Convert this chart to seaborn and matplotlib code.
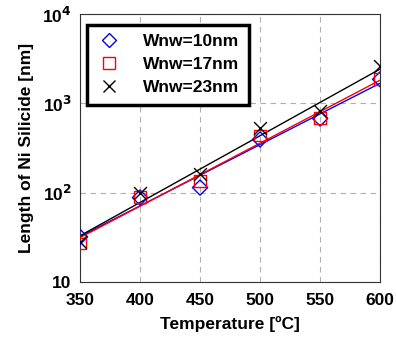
import numpy as np
import pandas as pd
import matplotlib
matplotlib.use("Agg")
import matplotlib.pyplot as plt
import seaborn as sns
from matplotlib.lines import Line2D
from matplotlib.ticker import FixedLocator, NullLocator

temps = [350, 400, 450, 500, 550, 600]
wnw10 = [32, 88, 114, 394, 677, 1860]
wnw17 = [27, 90, 136, 437, 690, 1860]
wnw23 = [28, 100, 163, 525, 812, 2600]
labels = ["Wnw=10nm", "Wnw=17nm", "Wnw=23nm"]
colors = ["#0000ff", "#ff0000", "#000000"]
markers = ["D", "s", "x"]
ytick_vals = [10, 100, 1000, 10000]
ytick_labels = ["10", "10$^{2}$", "10$^{3}$", "10$^{4}$"]

rows = []
for lab, vals in zip(labels, [wnw10, wnw17, wnw23]):
    for t, v in zip(temps, vals):
        rows.append({"T": t, "L": v, "series": lab})
df = pd.DataFrame(rows)

# exponential fits (log-linear)
fit_rows = []
for lab, vals in zip(labels, [wnw10, wnw17, wnw23]):
    p = np.polyfit(temps, np.log10(vals), 1)
    for t in temps:
        fit_rows.append({"T": t, "L": 10 ** np.polyval(p, t), "series": lab})
fit = pd.DataFrame(fit_rows)

sns.set_style("white")
plt.rcParams["font.family"] = ["Liberation Sans", "DejaVu Sans"]
plt.rcParams["font.weight"] = "bold"
plt.rcParams["mathtext.default"] = "bf"
for k in ["text.color", "axes.labelcolor", "xtick.color", "ytick.color"]:
    plt.rcParams[k] = "black"

fig = plt.figure(figsize=(3.96, 3.43), dpi=100)
ax = fig.add_axes([0.202, 0.178, 0.758, 0.781])

pal = dict(zip(labels, colors))
sns.lineplot(data=fit, x="T", y="L", hue="series", palette=pal, ax=ax,
             legend=False, linewidth=1.0, zorder=2)
for lab, col, mk in zip(labels, colors, markers):
    sub = df[df["series"] == lab]
    if mk == "x":
        sns.scatterplot(data=sub, x="T", y="L", marker="x", color=col, s=85,
                        linewidth=1.0, ax=ax, zorder=3, legend=False)
    else:
        sns.scatterplot(data=sub, x="T", y="L", marker=mk, facecolor="none",
                        edgecolor=col, s=70 if mk == "s" else 60,
                        linewidth=1.0, ax=ax, zorder=3, legend=False)

ax.set_yscale("log")
ax.set_xlim(350, 600)
ax.set_ylim(10, 10000)
ax.set_xticks(temps)
ax.set_xticklabels([str(t) for t in temps], fontsize=12.5, fontweight="bold")
ax.yaxis.set_major_locator(FixedLocator(ytick_vals))
ax.yaxis.set_minor_locator(NullLocator())
ax.set_yticklabels(ytick_labels, fontsize=12.5, fontweight="bold")
ax.tick_params(direction="in", length=4, width=0.8, color="black", labelcolor="black")
ax.tick_params(axis="x", pad=8)
ax.tick_params(axis="y", pad=6)
ax.grid(True, which="major", linestyle=(0, (5, 4)), color="#b0b0b0", linewidth=0.8)
for sp in ax.spines.values():
    sp.set_color("#333333")
    sp.set_linewidth(0.8)

ax.set_xlabel("Temperature [ºC]", fontsize=12.5, fontweight="bold", labelpad=6, color="black")
ax.set_ylabel("Length of Ni Silicide [nm]", fontsize=12.5, fontweight="bold", labelpad=6, color="black")

handles = []
for lab, col, mk in zip(labels, colors, markers):
    if mk == "x":
        h = Line2D([], [], linestyle="none", marker="x", color=col, markersize=9, markeredgewidth=1.0)
    else:
        h = Line2D([], [], linestyle="none", marker=mk, markerfacecolor="none",
                   markeredgecolor=col, markersize=8 if mk == "s" else 7.5, markeredgewidth=1.0)
    handles.append(h)
leg = ax.legend(handles, labels, loc="upper left", bbox_to_anchor=(0.023, 0.96),
                frameon=True, fancybox=False, prop={"weight": "bold", "size": 12.5},
                handletextpad=1.2, borderpad=0.55, labelspacing=0.45, borderaxespad=0,
                handlelength=1.5)
for t in leg.get_texts():
    t.set_color("black")
leg.get_frame().set_edgecolor("black")
leg.get_frame().set_linewidth(2.5)
leg.get_frame().set_facecolor("white")
leg.get_frame().set_alpha(1)

fig.savefig("out.png", dpi=100)
